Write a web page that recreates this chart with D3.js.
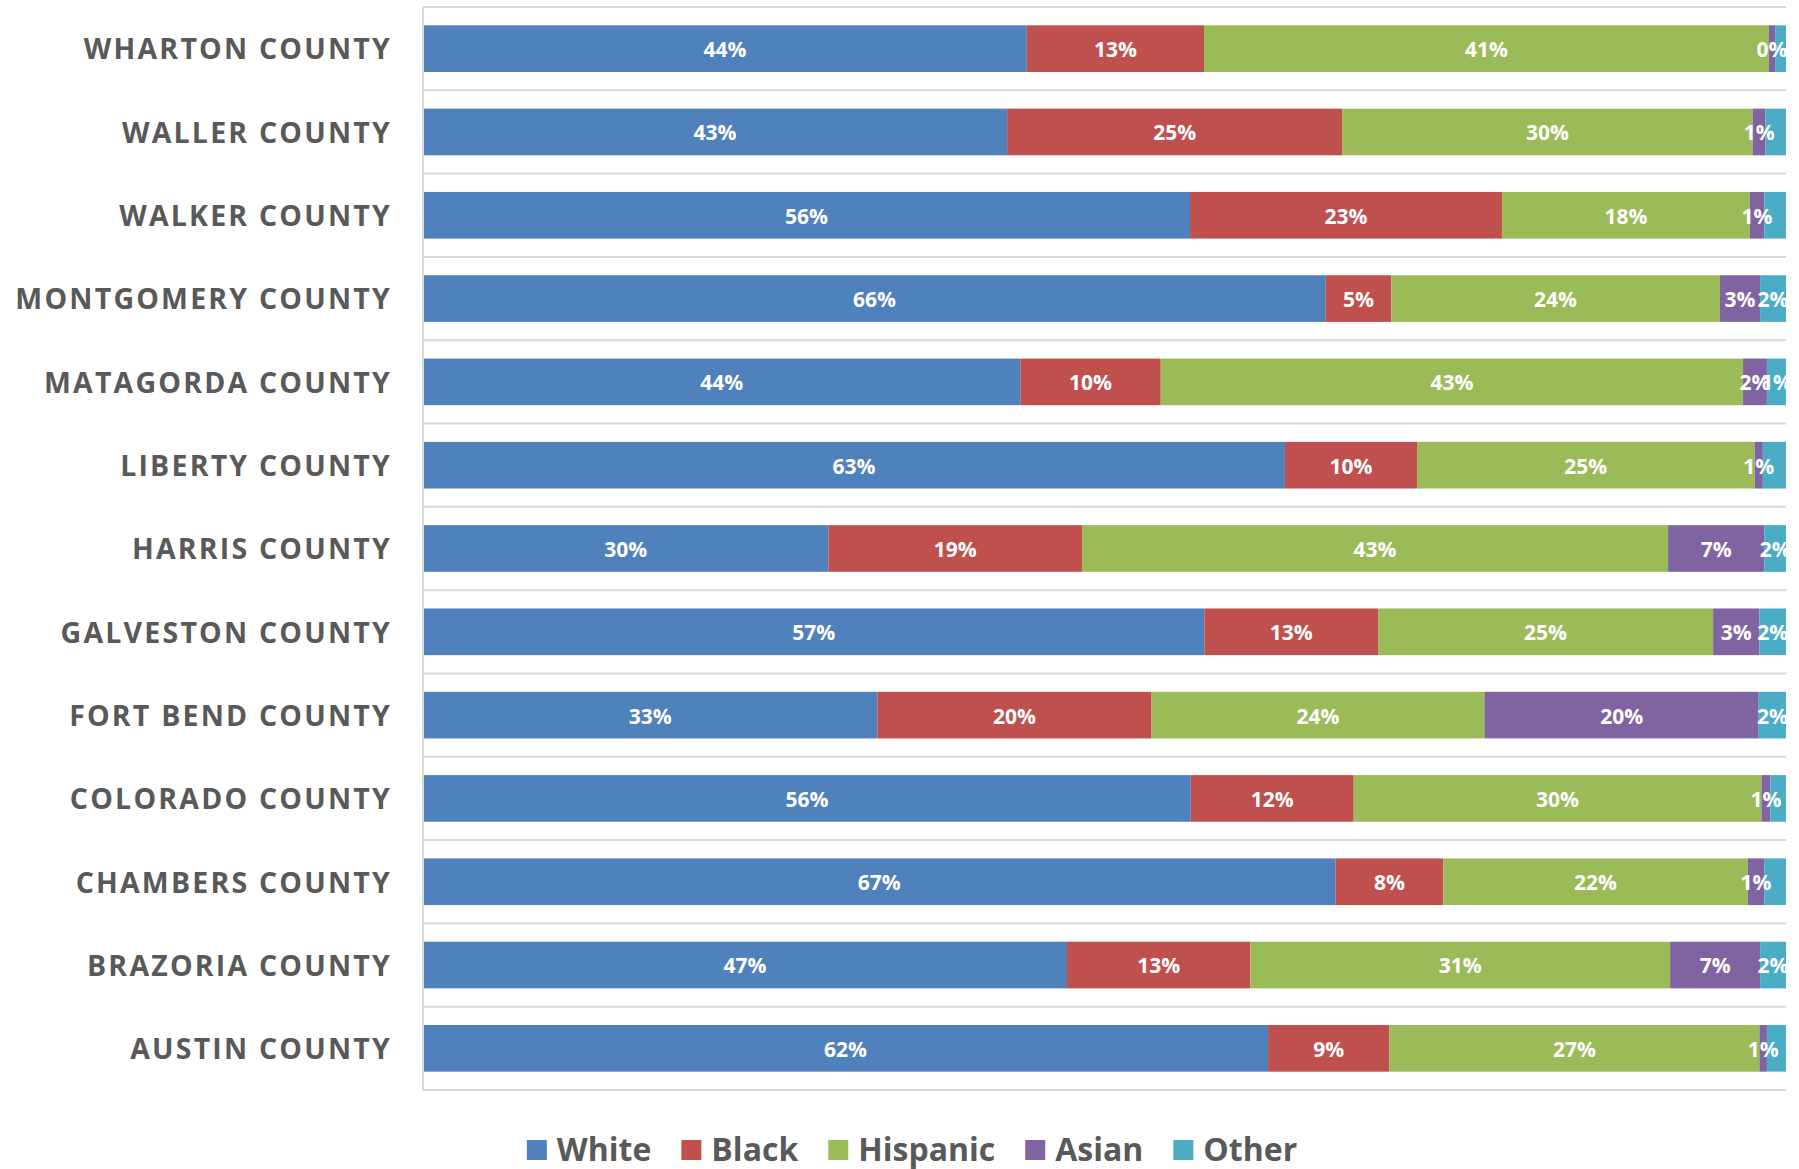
<!DOCTYPE html>
<html>
<head>
<meta charset="utf-8">
<script src="https://cdn.jsdelivr.net/npm/d3@7"></script>
<style>
  html, body { margin: 0; padding: 0; background: #fff; }
  svg { display: block; }
</style>
</head>
<body>
<svg id="chart" width="1799" height="1169"></svg>
<script>
// ---- data (top to bottom, as drawn) ----
const counties = ["WHARTON COUNTY", "WALLER COUNTY", "WALKER COUNTY", "MONTGOMERY COUNTY",
  "MATAGORDA COUNTY", "LIBERTY COUNTY", "HARRIS COUNTY", "GALVESTON COUNTY",
  "FORT BEND COUNTY", "COLORADO COUNTY", "CHAMBERS COUNTY", "BRAZORIA COUNTY", "AUSTIN COUNTY"];
const seriesNames = ["White", "Black", "Hispanic", "Asian", "Other"];
const white    = [44.3, 42.9, 56.3, 66.2, 43.8, 63.3, 29.75, 57.35, 33.3, 56.3, 66.95, 47.25, 62.0];
const black    = [13.0, 24.6, 22.9, 4.8, 10.3, 9.7, 18.6, 12.75, 20.1, 11.95, 7.9, 13.45, 8.9];
const hispanic = [41.45, 30.15, 18.2, 24.1, 42.7, 24.8, 43.0, 24.6, 24.4, 29.9, 22.35, 30.8, 27.15];
const asian    = [0.45, 0.95, 1.05, 2.95, 1.75, 0.6, 7.05, 3.4, 20.1, 0.65, 1.2, 6.6, 0.55];
const other    = [0.8, 1.5, 1.6, 1.9, 1.4, 1.7, 1.6, 1.95, 2.0, 1.15, 1.6, 1.9, 1.4];
const otherLabelShown = [false, false, false, true, true, false, true, true, true, false, false, true, false];
const colors = ["#4F81BD", "#C0504D", "#9BBB59", "#8064A2", "#4BACC6"];

(function () {
// ---- build table ----
const rows = counties.map((c, i) => ({
  county: c, White: white[i], Black: black[i], Hispanic: hispanic[i], Asian: asian[i], Other: other[i], idx: i
}));
const stacked = d3.stack().keys(seriesNames).offset(d3.stackOffsetExpand)(rows);

const svg = d3.select("#chart");
const pLeft = 423, pRight = 1786, pTop = 7, pBottom = 1090;

const x = d3.scaleLinear().domain([0, 1]).range([pLeft, pRight]);
const y = d3.scaleBand().domain(counties).range([pTop, pBottom]).paddingInner(0.44).paddingOuter(0.22);
const color = d3.scaleOrdinal().domain(seriesNames).range(colors);

// gridlines at category boundaries
const step = y.step();
const boundaries = d3.range(counties.length + 1).map(k => pTop + k * step);
svg.append("g").selectAll("line").data(boundaries).join("line")
  .attr("x1", pLeft).attr("x2", pRight)
  .attr("y1", d => d).attr("y2", d => d)
  .attr("stroke", "#d9d9d9").attr("stroke-width", 2);

// bars
const layer = svg.append("g").selectAll("g").data(stacked).join("g")
  .attr("fill", d => color(d.key));
layer.selectAll("rect").data(d => d).join("rect")
  .attr("x", d => x(d[0]))
  .attr("width", d => x(d[1]) - x(d[0]))
  .attr("y", d => y(d.data.county))
  .attr("height", y.bandwidth());

// left axis line
svg.append("line").attr("x1", pLeft).attr("x2", pLeft).attr("y1", pTop).attr("y2", pBottom)
  .attr("stroke", "#d9d9d9").attr("stroke-width", 2);

// data labels
const fmt = v => Math.round(v) + "%";
const lab = svg.append("g").attr("font-family", "'Open Sans', sans-serif").attr("font-weight", 700)
  .attr("font-size", 21).attr("fill", "#fff").attr("text-anchor", "middle");
stacked.forEach(s => {
  s.forEach(d => {
    if (s.key === "Other" && !otherLabelShown[d.data.idx]) return;
    lab.append("text")
      .attr("x", (x(d[0]) + x(d[1])) / 2)
      .attr("y", y(d.data.county) + y.bandwidth() / 2)
      .attr("dy", "0.4em")
      .text(fmt(d.data[s.key]));
  });
});

// category axis labels
const yAxis = d3.axisLeft(y).tickSize(0).tickPadding(0);
const ag = svg.append("g").attr("transform", `translate(${392},0)`).call(yAxis);
ag.select(".domain").remove();
ag.selectAll("text")
  .attr("font-family", "'Open Sans', sans-serif")
  .attr("font-weight", 700)
  .attr("font-size", 28.5)
  .attr("letter-spacing", "2.2px")
  .attr("fill", "#595959")
  .attr("dy", "0.38em");

// legend
const lg = svg.append("g").attr("font-family", "'Open Sans', sans-serif").attr("font-weight", 700)
  .attr("font-size", 32).attr("fill", "#595959");
const sq = 20, gapText = 10, gapItem = 30;
const items = seriesNames.map(n => {
  const g = lg.append("g");
  g.append("rect").attr("width", sq).attr("height", sq).attr("y", 1140).attr("fill", color(n));
  const t = g.append("text").attr("x", sq + gapText).attr("y", 1161).text(n);
  return { g, w: sq + gapText + t.node().getComputedTextLength() };
});
const total = d3.sum(items, d => d.w) + gapItem * (items.length - 1);
let cx = 912 - total / 2;
items.forEach(it => { it.g.attr("transform", `translate(${cx},0)`); cx += it.w + gapItem; });
})();
</script>
</body>
</html>
